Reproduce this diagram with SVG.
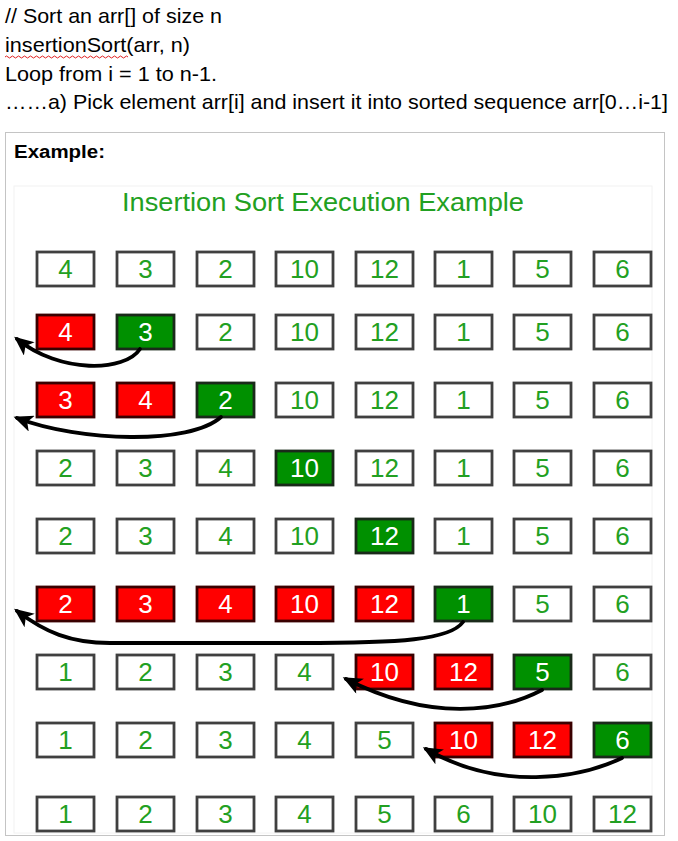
<svg xmlns="http://www.w3.org/2000/svg" width="678" height="841" viewBox="0 0 678 841">
<defs>
<style>
.hdr{font-family:"Liberation Sans",Arial,sans-serif;font-size:21px;fill:#000}
.ex{font-family:"Liberation Sans",Arial,sans-serif;font-size:18px;font-weight:bold;fill:#000}
.title{font-family:"Liberation Sans",Arial,sans-serif;font-size:25px;fill:#22a022}
.b rect{stroke:#404040;stroke-width:2.8}
.b text{font-family:"Liberation Sans",Arial,sans-serif;font-size:26px;text-anchor:middle}
.w rect{fill:#fff}
.w text{fill:#22a022}
.r rect{fill:#ff0000;stroke:#3a0000}
.r text{fill:#fff}
.g rect{fill:#009000;stroke:#1a2a1a}
.g text{fill:#fff}
.arr{fill:none;stroke:#000;stroke-width:3.8;stroke-linecap:round;marker-end:url(#ah)}
</style>
<marker id="ah" viewBox="0 0 16 14" refX="13" refY="7" markerWidth="20" markerHeight="17" orient="auto" markerUnits="userSpaceOnUse">
<path d="M0,0 L16,7 L0,14 L4,7 Z" fill="#000"/>
</marker>
</defs>
<rect width="678" height="841" fill="#fff"/>
<g id="header">
<text class="hdr" x="5" y="23" textLength="217" lengthAdjust="spacingAndGlyphs">// Sort an arr[] of size n</text>
<text class="hdr" x="5" y="52" textLength="185" lengthAdjust="spacingAndGlyphs">insertionSort(arr, n)</text>
<path d="M5,57 q1.5,-2 3,0 t3,0 t3,0 t3,0 t3,0 t3,0 t3,0 t3,0 t3,0 t3,0 t3,0 t3,0 t3,0 t3,0 t3,0 t3,0 t3,0 t3,0 t3,0 t3,0 t3,0 t3,0 t3,0 t3,0 t3,0 t3,0 t3,0 t3,0 t3,0 t3,0 t3,0 t3,0 t3,0 t3,0 t3,0 t3,0 t3,0 t3,0 t3,0 t3,0 t3,0" fill="none" stroke="#e02020" stroke-width="1"/>
<text class="hdr" x="5" y="81" textLength="212" lengthAdjust="spacingAndGlyphs">Loop from i = 1 to n-1.</text>
<text class="hdr" x="5" y="109" textLength="663" lengthAdjust="spacingAndGlyphs">……a) Pick element arr[i] and insert it into sorted sequence arr[0…i-1]</text>
</g>
<g id="frame">
<rect x="5.5" y="132.5" width="659" height="703" fill="#fff" stroke="#c4c4c4" stroke-width="1"/>
<text class="ex" x="14" y="158" textLength="91" lengthAdjust="spacingAndGlyphs">Example:</text>
<rect x="14" y="186" width="638" height="647" fill="#fff" stroke="#f2f2f2" stroke-width="1"/>
<text class="title" x="122" y="211" textLength="402" lengthAdjust="spacingAndGlyphs">Insertion Sort Execution Example</text>
</g>
<g id="row1">
<g class="b w"><rect x="37" y="252" width="57" height="34"/><text x="65.5" y="278">4</text></g>
<g class="b w"><rect x="117" y="252" width="57" height="34"/><text x="145.5" y="278">3</text></g>
<g class="b w"><rect x="197" y="252" width="57" height="34"/><text x="225.5" y="278">2</text></g>
<g class="b w"><rect x="276" y="252" width="57" height="34"/><text x="304.5" y="278">10</text></g>
<g class="b w"><rect x="356" y="252" width="57" height="34"/><text x="384.5" y="278">12</text></g>
<g class="b w"><rect x="435" y="252" width="57" height="34"/><text x="463.5" y="278">1</text></g>
<g class="b w"><rect x="514" y="252" width="57" height="34"/><text x="542.5" y="278">5</text></g>
<g class="b w"><rect x="594" y="252" width="57" height="34"/><text x="622.5" y="278">6</text></g>
</g>
<g id="row2">
<g class="b r"><rect x="37" y="315" width="57" height="34"/><text x="65.5" y="341">4</text></g>
<g class="b g"><rect x="117" y="315" width="57" height="34"/><text x="145.5" y="341">3</text></g>
<g class="b w"><rect x="197" y="315" width="57" height="34"/><text x="225.5" y="341">2</text></g>
<g class="b w"><rect x="276" y="315" width="57" height="34"/><text x="304.5" y="341">10</text></g>
<g class="b w"><rect x="356" y="315" width="57" height="34"/><text x="384.5" y="341">12</text></g>
<g class="b w"><rect x="435" y="315" width="57" height="34"/><text x="463.5" y="341">1</text></g>
<g class="b w"><rect x="514" y="315" width="57" height="34"/><text x="542.5" y="341">5</text></g>
<g class="b w"><rect x="594" y="315" width="57" height="34"/><text x="622.5" y="341">6</text></g>
</g>
<g id="row3">
<g class="b r"><rect x="37" y="383" width="57" height="34"/><text x="65.5" y="409">3</text></g>
<g class="b r"><rect x="117" y="383" width="57" height="34"/><text x="145.5" y="409">4</text></g>
<g class="b g"><rect x="197" y="383" width="57" height="34"/><text x="225.5" y="409">2</text></g>
<g class="b w"><rect x="276" y="383" width="57" height="34"/><text x="304.5" y="409">10</text></g>
<g class="b w"><rect x="356" y="383" width="57" height="34"/><text x="384.5" y="409">12</text></g>
<g class="b w"><rect x="435" y="383" width="57" height="34"/><text x="463.5" y="409">1</text></g>
<g class="b w"><rect x="514" y="383" width="57" height="34"/><text x="542.5" y="409">5</text></g>
<g class="b w"><rect x="594" y="383" width="57" height="34"/><text x="622.5" y="409">6</text></g>
</g>
<g id="row4">
<g class="b w"><rect x="37" y="451" width="57" height="34"/><text x="65.5" y="477">2</text></g>
<g class="b w"><rect x="117" y="451" width="57" height="34"/><text x="145.5" y="477">3</text></g>
<g class="b w"><rect x="197" y="451" width="57" height="34"/><text x="225.5" y="477">4</text></g>
<g class="b g"><rect x="276" y="451" width="57" height="34"/><text x="304.5" y="477">10</text></g>
<g class="b w"><rect x="356" y="451" width="57" height="34"/><text x="384.5" y="477">12</text></g>
<g class="b w"><rect x="435" y="451" width="57" height="34"/><text x="463.5" y="477">1</text></g>
<g class="b w"><rect x="514" y="451" width="57" height="34"/><text x="542.5" y="477">5</text></g>
<g class="b w"><rect x="594" y="451" width="57" height="34"/><text x="622.5" y="477">6</text></g>
</g>
<g id="row5">
<g class="b w"><rect x="37" y="519" width="57" height="34"/><text x="65.5" y="545">2</text></g>
<g class="b w"><rect x="117" y="519" width="57" height="34"/><text x="145.5" y="545">3</text></g>
<g class="b w"><rect x="197" y="519" width="57" height="34"/><text x="225.5" y="545">4</text></g>
<g class="b w"><rect x="276" y="519" width="57" height="34"/><text x="304.5" y="545">10</text></g>
<g class="b g"><rect x="356" y="519" width="57" height="34"/><text x="384.5" y="545">12</text></g>
<g class="b w"><rect x="435" y="519" width="57" height="34"/><text x="463.5" y="545">1</text></g>
<g class="b w"><rect x="514" y="519" width="57" height="34"/><text x="542.5" y="545">5</text></g>
<g class="b w"><rect x="594" y="519" width="57" height="34"/><text x="622.5" y="545">6</text></g>
</g>
<g id="row6">
<g class="b r"><rect x="37" y="587" width="57" height="34"/><text x="65.5" y="613">2</text></g>
<g class="b r"><rect x="117" y="587" width="57" height="34"/><text x="145.5" y="613">3</text></g>
<g class="b r"><rect x="197" y="587" width="57" height="34"/><text x="225.5" y="613">4</text></g>
<g class="b r"><rect x="276" y="587" width="57" height="34"/><text x="304.5" y="613">10</text></g>
<g class="b r"><rect x="356" y="587" width="57" height="34"/><text x="384.5" y="613">12</text></g>
<g class="b g"><rect x="435" y="587" width="57" height="34"/><text x="463.5" y="613">1</text></g>
<g class="b w"><rect x="514" y="587" width="57" height="34"/><text x="542.5" y="613">5</text></g>
<g class="b w"><rect x="594" y="587" width="57" height="34"/><text x="622.5" y="613">6</text></g>
</g>
<g id="row7">
<g class="b w"><rect x="37" y="655" width="57" height="34"/><text x="65.5" y="681">1</text></g>
<g class="b w"><rect x="117" y="655" width="57" height="34"/><text x="145.5" y="681">2</text></g>
<g class="b w"><rect x="197" y="655" width="57" height="34"/><text x="225.5" y="681">3</text></g>
<g class="b w"><rect x="276" y="655" width="57" height="34"/><text x="304.5" y="681">4</text></g>
<g class="b r"><rect x="356" y="655" width="57" height="34"/><text x="384.5" y="681">10</text></g>
<g class="b r"><rect x="435" y="655" width="57" height="34"/><text x="463.5" y="681">12</text></g>
<g class="b g"><rect x="514" y="655" width="57" height="34"/><text x="542.5" y="681">5</text></g>
<g class="b w"><rect x="594" y="655" width="57" height="34"/><text x="622.5" y="681">6</text></g>
</g>
<g id="row8">
<g class="b w"><rect x="37" y="723" width="57" height="34"/><text x="65.5" y="749">1</text></g>
<g class="b w"><rect x="117" y="723" width="57" height="34"/><text x="145.5" y="749">2</text></g>
<g class="b w"><rect x="197" y="723" width="57" height="34"/><text x="225.5" y="749">3</text></g>
<g class="b w"><rect x="276" y="723" width="57" height="34"/><text x="304.5" y="749">4</text></g>
<g class="b w"><rect x="356" y="723" width="57" height="34"/><text x="384.5" y="749">5</text></g>
<g class="b r"><rect x="435" y="723" width="57" height="34"/><text x="463.5" y="749">10</text></g>
<g class="b r"><rect x="514" y="723" width="57" height="34"/><text x="542.5" y="749">12</text></g>
<g class="b g"><rect x="594" y="723" width="57" height="34"/><text x="622.5" y="749">6</text></g>
</g>
<g id="row9">
<g class="b w"><rect x="37" y="797" width="57" height="34"/><text x="65.5" y="823">1</text></g>
<g class="b w"><rect x="117" y="797" width="57" height="34"/><text x="145.5" y="823">2</text></g>
<g class="b w"><rect x="197" y="797" width="57" height="34"/><text x="225.5" y="823">3</text></g>
<g class="b w"><rect x="276" y="797" width="57" height="34"/><text x="304.5" y="823">4</text></g>
<g class="b w"><rect x="356" y="797" width="57" height="34"/><text x="384.5" y="823">5</text></g>
<g class="b w"><rect x="435" y="797" width="57" height="34"/><text x="463.5" y="823">6</text></g>
<g class="b w"><rect x="514" y="797" width="57" height="34"/><text x="542.5" y="823">10</text></g>
<g class="b w"><rect x="594" y="797" width="57" height="34"/><text x="622.5" y="823">12</text></g>
</g>
<g id="connectors">
<path class="arr" d="M140,349 C125,372 60,374 17,339"/>
<path class="arr" d="M221,417 C190,445 80,442 17,418"/>
<path class="arr" d="M463,622 C450,640 400,643 300,643 L110,643 C70,643 45,632 17,611"/>
<path class="arr" d="M542,690 C500,712 430,722 346,679"/>
<path class="arr" d="M622,758 C580,778 500,792 426,749"/>
</g>
</svg>
